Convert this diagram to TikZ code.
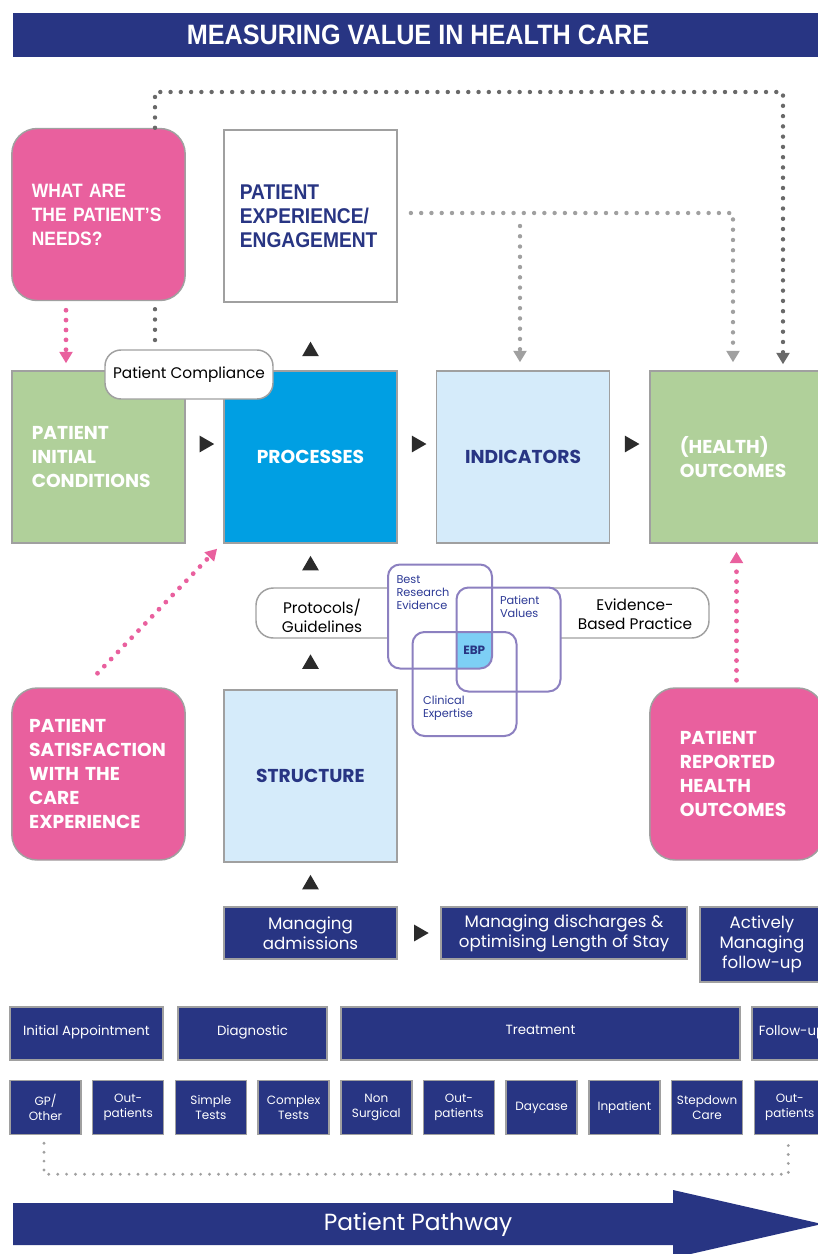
\documentclass[tikz,border=0pt]{standalone}
\usepackage{fontspec}
\setmainfont{Poppins}
\newfontfamily\condfont[FakeStretch=0.9]{Liberation Sans}
\usetikzlibrary{calc,arrows.meta,shapes.geometric}
\hyphenpenalty=10000
\exhyphenpenalty=10000

\definecolor{navy}{RGB}{40,53,131}
\definecolor{pinkc}{RGB}{233,96,158}
\definecolor{greenc}{RGB}{176,208,154}
\definecolor{bluec}{RGB}{0,159,227}
\definecolor{lblue}{RGB}{213,235,250}
\definecolor{edge}{RGB}{160,160,160}
\definecolor{venn}{RGB}{140,128,192}
\definecolor{ebpc}{RGB}{125,207,245}
\definecolor{dotdark}{RGB}{105,105,105}
\definecolor{dotlight}{RGB}{160,160,160}
\definecolor{tric}{RGB}{43,43,43}
\definecolor{venntext}{RGB}{45,58,150}

\tikzset{every picture/.style={line width=0.75pt},
	sq/.style={draw=edge, line width=1.1pt, minimum width=130pt, minimum height=129pt, inner sep=0pt},
	pinkbox/.style={sq, fill=pinkc, rounded corners=19pt, text=white},
	greenbox/.style={sq, fill=greenc, text=white},
	hd/.style={font=\bfseries\fontsize{14}{18}\selectfont},
	hdc/.style={font=\condfont\bfseries\fontsize{#1}{18}\selectfont},
	lt/.style={text width=#1, align=left},
	pill/.style={draw=edge, line width=1.1pt, fill=white, rounded corners=12pt, inner sep=0pt, align=center, font=\fontsize{11.5}{14}\selectfont},
	bandtxt/.style={align=center, inner sep=0pt, font=\fontsize{11.5}{14.25}\selectfont},
	vennbox/.style={fill=white, minimum size=77.25pt, rounded corners=9pt, inner sep=0pt},
	vennline/.style={draw=venn, line width=1.5pt, rounded corners=9pt},
	venntxt/.style={anchor=north west, align=left, inner sep=0pt, text=venntext, font=\fontsize{8.5}{9.75}\selectfont},
	mg/.style={draw=edge, line width=1.1pt, fill=navy, text=white, inner sep=0pt, align=center, font=\fontsize{12.5}{15}\selectfont},
	ph/.style={draw=edge, line width=1.1pt, fill=navy, text=white, inner sep=0pt, minimum height=39.75pt, font=\fontsize{10}{12}\selectfont},
	sub/.style={ph, minimum width=53.25pt, minimum height=40.5pt, align=center, font=\fontsize{9}{11.25}\selectfont},
	tri/.style={regular polygon, regular polygon sides=3, fill=tric, minimum size=14.5pt, inner sep=0pt},
	trir/.style={tri, shape border rotate=-90},
	darkdots/.style={draw=dotdark, line width=3.3pt, dash pattern=on 0pt off 7.7pt, line cap=round},
	lightdots/.style={darkdots, draw=dotlight},
	pinkdots/.style={draw=pinkc, line width=3.6pt, dash pattern=on 0pt off 7.4pt, line cap=round},
	loopdots/.style={draw=dotlight, line width=2.4pt, dash pattern=on 0pt off 6.7pt, line cap=round},
	dothead/.style={-{Triangle[width=9.5pt,length=8.5pt]}}
}

\begin{document}
\begin{tikzpicture}[x=0.75pt,y=0.75pt,yscale=-1,xscale=1]
	\useasboundingbox (0,0) rectangle (818,1254);
	
	% Title bar
	\node[fill=navy, minimum width=607.5pt, minimum height=33pt, inner sep=0pt, text=white, font=\condfont\bfseries\fontsize{21}{24}\selectfont] (head) at (418,35) {MEASURING VALUE IN HEALTH CARE};
	
	% Top row
	\node[pinkbox, hdc=14.5, lt=100pt] (needs) at (98.5,214.5) {WHAT ARE\\THE PATIENT’S\\NEEDS?};
	\node[sq, fill=white, text=navy, hdc=16, lt=106pt] (exp) at (310.5,216) {PATIENT\\EXPERIENCE/\\ENGAGEMENT};
	
	% Main row
	\node[greenbox, hd, lt=100pt] (init) at (98.5,457) {PATIENT\\INITIAL\\CONDITIONS};
	\node[sq, fill=bluec, text=white, hd] (proc) at (310.5,457) {PROCESSES};
	\node[sq, fill=lblue, text=navy, hd] (ind) at (523,457) {INDICATORS};
	\node[greenbox, hd, lt=85pt] (outc) at (736.5,457) {(HEALTH)\\OUTCOMES};
	
	% Dotted feedback lines
	\coordinate (tl) at (155,92);
	\coordinate (tr) at (783,92);
	\draw[darkdots, dothead] (tl |- needs.north) -- (tl) -- (tr) -- ($(tr |- outc.north)+(0,-6)$);
	\draw[darkdots] ($(tl |- needs.south)+(0,8)$) -- ($(tl |- init.north)+(0,-22)$);
	\draw[lightdots, dothead] ($(exp.east)+(13,-3)$) -| ($(outc.north)+(-3.5,-8)$);
	\draw[lightdots, dothead] ($(ind.north |- exp.east)+(-3,10)$) -- ($(ind.north)+(-3,-8)$);
	\draw[pinkdots, dothead] ($(needs.south)+(-32.5,9)$) -- ($(init.north)+(-32.5,-7)$);
	
	\node[pill, minimum width=126pt, minimum height=36.75pt] (comp) at (189,374.5) {Patient Compliance};
	
	% Protocols / EBP band
	\node[pill, minimum width=339.75pt, minimum height=37.5pt, rounded corners=13pt] (band) at (482.5,613) {};
	\node[bandtxt] (prot) at (322,615.5) {Protocols/\\Guidelines};
	\node[bandtxt] (evp) at (635,614.5) {Evidence-\\Based Practice};
	
	% Venn of evidence-based practice
	\node[vennbox] (bre) at (440,616.5) {};
	\node[vennbox] (pv) at (508.5,639.5) {};
	\node[vennbox] (ce) at (464.5,684) {};
	\coordinate (ebpA) at (pv.west |- ce.north);
	\begin{scope}
		\clip[rounded corners=9pt] (bre.south west) rectangle (bre.north east);
		\fill[ebpc] (ebpA) rectangle (bre.south east);
	\end{scope}
	\foreach \v in {bre,pv,ce}
		\draw[vennline] (\v.south west) rectangle (\v.north east);
	\node[inner sep=0pt, text=navy, font=\bfseries\fontsize{9}{10}\selectfont] (ebp) at ($(ebpA)!0.5!(bre.south east)$) {EBP};
	\node[venntxt] (bretxt) at ($(bre.north west)+(8,11)$) {Best\\Research\\Evidence};
	\node[venntxt] (pvtxt) at ($(pv.north west)+(43,8)$) {Patient\\Values};
	\node[venntxt] (cetxt) at ($(ce.north west)+(10,63)$) {Clinical\\Expertise};
	
	% Lower row
	\node[pinkbox, hd, lt=104pt] (sat) at (98.5,774) {PATIENT\\SATISFACTION\\WITH THE\\CARE\\EXPERIENCE};
	\node[sq, fill=lblue, text=navy, hd] (struct) at (310.5,776) {STRUCTURE};
	\node[pinkbox, hd, lt=85pt] (rep) at (736.5,774) {PATIENT\\REPORTED\\HEALTH\\OUTCOMES};
	
	\draw[pinkdots, dothead] ($(sat.north)+(-1,-14)$) -- ($(proc.south west)+(-6,5)$);
	\draw[pinkdots, dothead] ($(rep.north)+(0,-7)$) -- ($(outc.south)+(0,8)$);
	
	% Managing row
	\node[mg, minimum width=129.75pt, minimum height=39pt] (adm) at (310.5,933) {Managing\\admissions};
	\node[mg, minimum width=184.5pt, minimum height=39pt] (dis) at (564,933) {Managing discharges \&\\optimising Length of Stay};
	\node[mg, minimum width=93pt, minimum height=56.25pt] (act) at (762,944.5) {Actively\\Managing\\follow-up};
	
	% Flow triangles
	\node[tri] (t1) at ($(exp.south)!0.72!(proc.north)$) {};
	\node[tri] (t2) at ($(proc.south)!0.5!(proc.south |- band.north)$) {};
	\node[tri] (t3) at ($(struct.north)!0.5!(struct.north |- band.south)$) {};
	\node[tri] (t4) at ($(struct.south)!0.5!(adm.north)$) {};
	\node[trir] (t5) at ($(adm.east)!0.5!(dis.west)$) {};
	\node[trir] (t6) at ($(init.east)!0.5!(proc.west)+(0,-13)$) {};
	\node[trir] (t7) at ($(proc.east)!0.5!(ind.west)+(0,-13)$) {};
	\node[trir] (t8) at ($(ind.east)!0.5!(outc.west)+(0,-13)$) {};
	
	% Pathway phases
	\node[ph, minimum width=114.75pt, text depth=5pt] (app) at (86.5,1033.5) {Initial Appointment};
	\node[ph, minimum width=111.75pt, text depth=5pt] (diag) at (252.5,1033.5) {Diagnostic};
	\node[ph, minimum width=299.25pt, text depth=6pt] (treat) at (540.5,1033.5) {Treatment};
	\node[ph, minimum width=60pt, text depth=5pt] (fol) at (792,1033.5) {Follow-up};
	
	\foreach \t [count=\i from 0] in {{GP/\\Other},{Out-\\patients},{Simple\\Tests},{Complex\\Tests},{Non\\Surgical},{Out-\\patients},{Daycase},{Inpatient},{Stepdown\\Care},{Out-\\patients}}
		\node[sub] (s\i) at ({45.5+82.7*\i},1107.5) {\t};
	
	\draw[loopdots] ($(s0.south)+(-1.5,8)$) -- ($(s0.south)+(-1.5,39)$) -| ($(s9.south)+(-1.5,8)$);
	
	% Patient pathway arrow
	\fill[navy] (13,1203) -- (673,1203) -- (673,1190) -- (822,1224) -- (673,1258) -- (673,1245) -- (13,1245) -- cycle;
	\node[text=white, inner sep=0pt, font=\fontsize{17.5}{20}\selectfont] (pw) at (418,1225) {Patient Pathway};
\end{tikzpicture}
\end{document}
